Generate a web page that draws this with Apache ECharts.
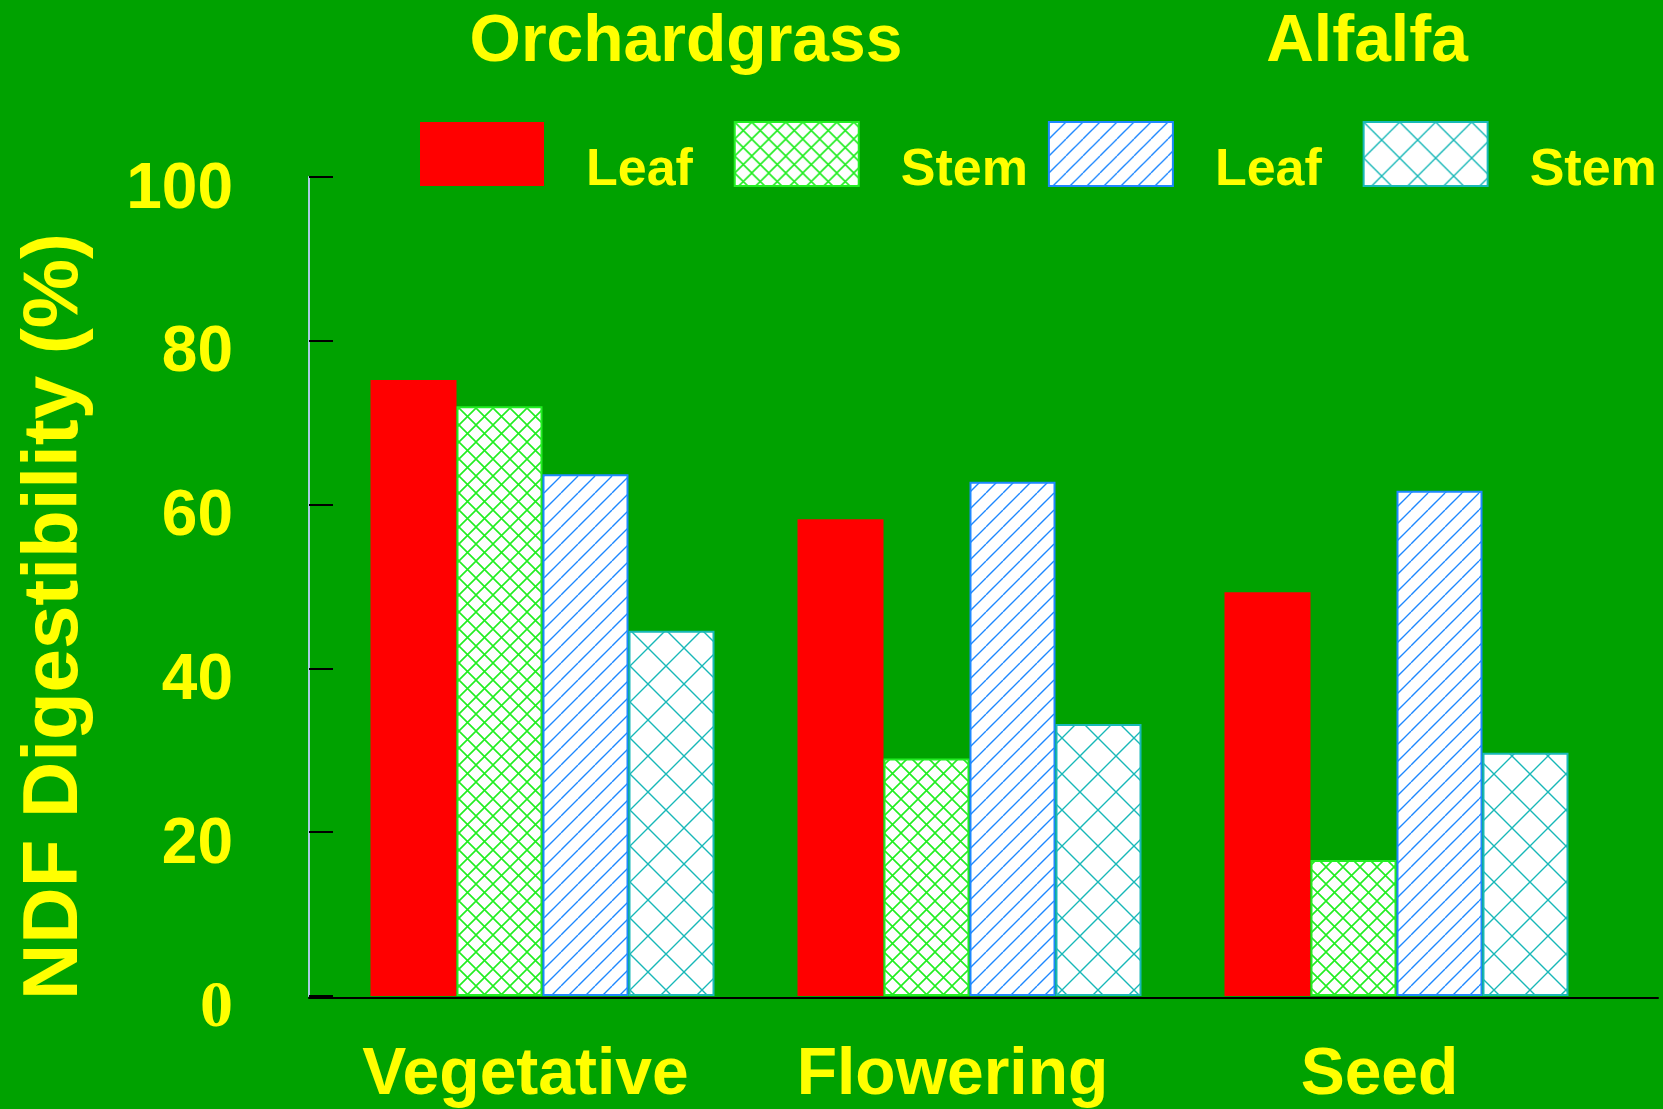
<!DOCTYPE html>
<html>
<head>
<meta charset="utf-8">
<script src="https://cdn.jsdelivr.net/npm/echarts@6/dist/echarts.min.js"></script>
<style>
  html, body { margin: 0; padding: 0; background: #00a200; }
  #chart { width: 1663px; height: 1109px; }
</style>
</head>
<body>
<div id="chart"></div>
<script>
// values
const stages = ['Vegetative', 'Flowering', 'Seed']
const orchardLeaf = [75.2, 58.2, 49.3]
const orchardStem = [72.0, 29.0, 16.6]
const alfalfaLeaf = [63.7, 62.8, 61.7]
const alfalfaStem = [44.6, 33.2, 29.7]
const yTicks = [0, 20, 40, 60, 80, 100]

const yellow = '#ffff00'
const font = 'Liberation Sans, Arial, sans-serif'

// hatch fills drawn on a small canvas tile
function hatch(size, color, lw, cross) {
    const c = document.createElement('canvas')
    c.width = size
    c.height = size
    const g = c.getContext('2d')
    g.fillStyle = '#ffffff'
    g.fillRect(0, 0, size, size)
    g.strokeStyle = color
    g.lineWidth = lw
    g.beginPath()
    for (let k = -1; k <= 1; k++) {
        g.moveTo(k * size, size)
        g.lineTo(k * size + size, 0)
        if (cross) {
            g.moveTo(k * size, 0)
            g.lineTo(k * size + size, size)
        }
    }
    g.stroke()
    return { image: c, repeat: 'repeat' }
}

const labels = { ogLeaf: 'Leaf', ogStem: 'Stem', alLeaf: 'Leaf', alStem: 'Stem' }

function bar(name, data, color, border) {
    return {
        name: name,
        type: 'bar',
        data: data,
        barWidth: 86,
        barGap: '0%',
        itemStyle: {
            color: color,
            borderColor: border,
            borderWidth: border ? 2 : 0
        }
    }
}

const option = {
    backgroundColor: '#00a200',
    animation: false,
    title: [{
        text: 'Orchardgrass',
        left: 686,
        top: 10,
        padding: 0,
        textAlign: 'center',
        textStyle: { color: yellow, fontSize: 66, fontWeight: 'bold', fontFamily: font }
    }, {
        text: 'Alfalfa',
        left: 1367,
        top: 10,
        padding: 0,
        textAlign: 'center',
        textStyle: { color: yellow, fontSize: 66, fontWeight: 'bold', fontFamily: font }
    }],
    legend: {
        left: 420,
        top: 121,
        padding: 0,
        icon: 'rect',
        itemWidth: 124,
        itemHeight: 64,
        itemGap: 20,
        // Leaf is narrower than Stem, two thin spaces keep the boxes evenly spaced
        formatter: n => '{t|' + (labels[n] === 'Leaf' ? 'Leaf\u2009\u2009' : labels[n]) + '}',
        textStyle: {
            color: yellow,
            fontSize: 52,
            fontWeight: 'bold',
            fontFamily: font,
            padding: [34, 0, 0, 37],
            rich: {
                t: { color: yellow, fontSize: 52, fontWeight: 'bold', fontFamily: font }
            }
        }
    },
    grid: [
        { left: 329, right: 53, top: 177, bottom: 111 },
        { left: 309, right: 5, top: 177, bottom: 111 }
    ],
    xAxis: [{
        type: 'category',
        data: stages,
        gridIndex: 0,
        axisLine: { show: false },
        axisTick: { show: false },
        axisLabel: {
            color: yellow,
            fontSize: 66,
            fontWeight: 'bold',
            fontFamily: font,
            margin: 47,
            padding: [0, 34, 0, 0]
        }
    }, {
        type: 'value',
        gridIndex: 1,
        min: 0,
        max: 1,
        axisLine: { show: true, onZero: false, lineStyle: { color: '#000000', width: 2 } },
        axisTick: { show: false },
        axisLabel: { show: false },
        splitLine: { show: false }
    }],
    yAxis: [{
        type: 'value',
        gridIndex: 0,
        min: 0,
        max: 100,
        interval: 20,
        offset: 20,
        name: 'NDF Digestibility (%)',
        nameLocation: 'middle',
        nameGap: 215,
        nameTextStyle: {
            color: yellow,
            fontSize: 78,
            fontWeight: 'bold',
            fontFamily: font,
            padding: [0, 60, 0, 0]
        },
        axisLine: { show: true, lineStyle: { color: '#a9cce0', width: 2 } },
        axisTick: { show: true, inside: true, length: 24, lineStyle: { color: '#000000', width: 2 } },
        splitLine: { show: false },
        axisLabel: {
            margin: 76,
            padding: [26, 0, 0, 0],
            formatter: v => yTicks.indexOf(v) === 0 ? '{s|' + v + '}' : '{n|' + v + '}',
            rich: {
                n: { color: yellow, fontSize: 64, fontWeight: 'bold', fontFamily: font },
                s: { color: yellow, fontSize: 66, fontWeight: 'bold', fontFamily: 'Liberation Serif, Times New Roman, serif' }
            }
        }
    }, {
        type: 'value',
        gridIndex: 1,
        show: false
    }],
    series: [
        bar('ogLeaf', orchardLeaf, '#ff0000', null),
        bar('ogStem', orchardStem, hatch(17, '#22ee22', 1.6, true), '#22ee22'),
        bar('alLeaf', alfalfaLeaf, hatch(17, '#1e88ff', 1.4, false), '#1e88ff'),
        bar('alStem', alfalfaStem, hatch(36, '#18b8b8', 1.4, true), '#18b8b8')
    ]
}

const chart = echarts.init(document.getElementById('chart'))
chart.setOption(option)
window.addEventListener('resize', () => {
    chart.resize()
})
</script>
</body>
</html>
